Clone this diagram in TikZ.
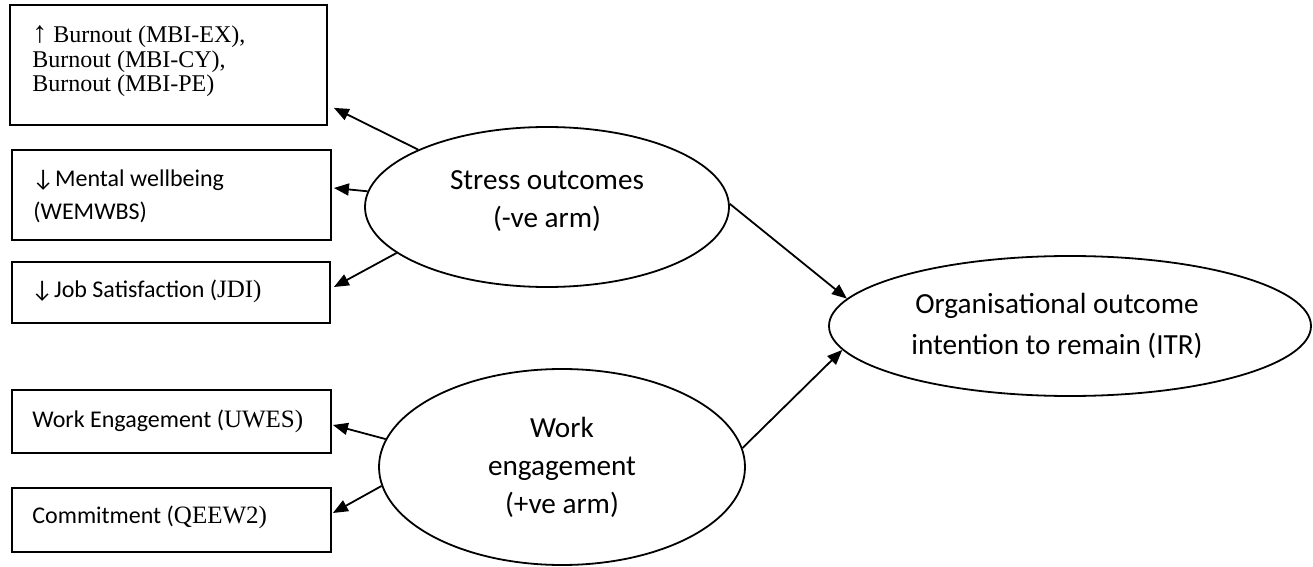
\documentclass[tikz,border=0pt]{standalone}
\usepackage{fontspec}
\setmainfont{Liberation Serif}
\newfontfamily\calfont{Carlito}
\newfontfamily\arrfont{Liberation Sans}
\usetikzlibrary{arrows.meta,shapes.geometric}

\begin{document}
\begin{tikzpicture}[x=0.5pt,y=-0.5pt,
  box/.style={draw, line width=0.9pt, inner sep=0pt},
  latent/.style={draw, ellipse, line width=0.9pt, inner sep=0pt, align=center,
    font=\calfont\fontsize{14.6}{19}\selectfont},
  lbl/.style={anchor=base west, inner sep=0pt},
  serif/.style={font=\fontsize{12}{12}\selectfont},
  sans/.style={font=\calfont\fontsize{12}{12}\selectfont},
  arr/.style={line width=0.9pt, -{Triangle[length=7.5pt,width=6pt]}}]

\useasboundingbox (0,0) rectangle (1313,567);

% indicator boxes
\node[box, minimum width=158.5pt, minimum height=60pt]   (b1) at (168.5,65)  {};
\node[box, minimum width=159.5pt, minimum height=45pt]   (b2) at (171.5,195) {};
\node[box, minimum width=159pt,   minimum height=30.5pt] (b3) at (171,292.5) {};
\node[box, minimum width=159.5pt, minimum height=31.5pt] (b4) at (171.5,421.5) {};
\node[box, minimum width=159.5pt, minimum height=32pt]   (b5) at (171.5,520) {};

% box texts
\node[lbl, serif] (b1a) at (32,43) {{\arrfont\fontsize{15}{15}\selectfont ↑} Burnout (MBI-EX),};
\node[lbl, serif] (b1b) at (32,68) {Burnout (MBI-CY),};
\node[lbl, serif] (b1c) at (32,92) {Burnout (MBI-PE)};
\node[lbl, sans]  (b2a) at (32,186) {↓\kern0.5pt Mental wellbeing};
\node[lbl, sans]  (b2b) at (33,220) {(WEMWBS)};
\node[lbl, sans]  (b3a) at (31,297) {↓\kern0.5pt Job Satisfaction ({\rmfamily\fontsize{12.5}{12}\selectfont JDI)}};
\node[lbl, sans]  (b4a) at (32,427) {Work Engagement ({\rmfamily\fontsize{12.5}{12}\selectfont UWES)}};
\node[lbl, sans]  (b5a) at (32,523) {Commitment ({\rmfamily\fontsize{12.5}{12}\selectfont QEEW2)}};

% latent constructs
\node[latent, minimum width=182pt, minimum height=80pt, text depth=7.5pt] (stress) at (547,207)
  {Stress outcomes\\(-ve arm)};
\node[latent, minimum width=183pt, minimum height=98pt] (we) at (562,467)
  {Work\\engagement\\(+ve arm)};
\node[latent, minimum width=241pt, minimum height=70pt,
  font=\calfont\fontsize{14.6}{20.5}\selectfont] (itr) at (1070,326)
  {Organisational outcome\hspace*{13pt}\\intention to remain (ITR)\hspace*{13pt}};

% paths
\draw[arr] (stress.156)   -- ([xshift=3pt,yshift=9pt]b1.south east);
\draw[arr] (stress.175.3) -- ([xshift=1pt,yshift=3.5pt]b2.east);
\draw[arr] (stress.197.6) -- ([xshift=1.5pt,yshift=2.75pt]b3.east);
\draw[arr] (we.171.4)     -- ([xshift=0.5pt,yshift=-1.75pt]b4.east);
\draw[arr] (we.186.7)     -- ([xshift=0.5pt,yshift=3.5pt]b5.east);
\draw[arr] (stress.1)     -- (itr.173.5);
\draw[arr] (we.6.3)       -- (itr.186);
\end{tikzpicture}
\end{document}
